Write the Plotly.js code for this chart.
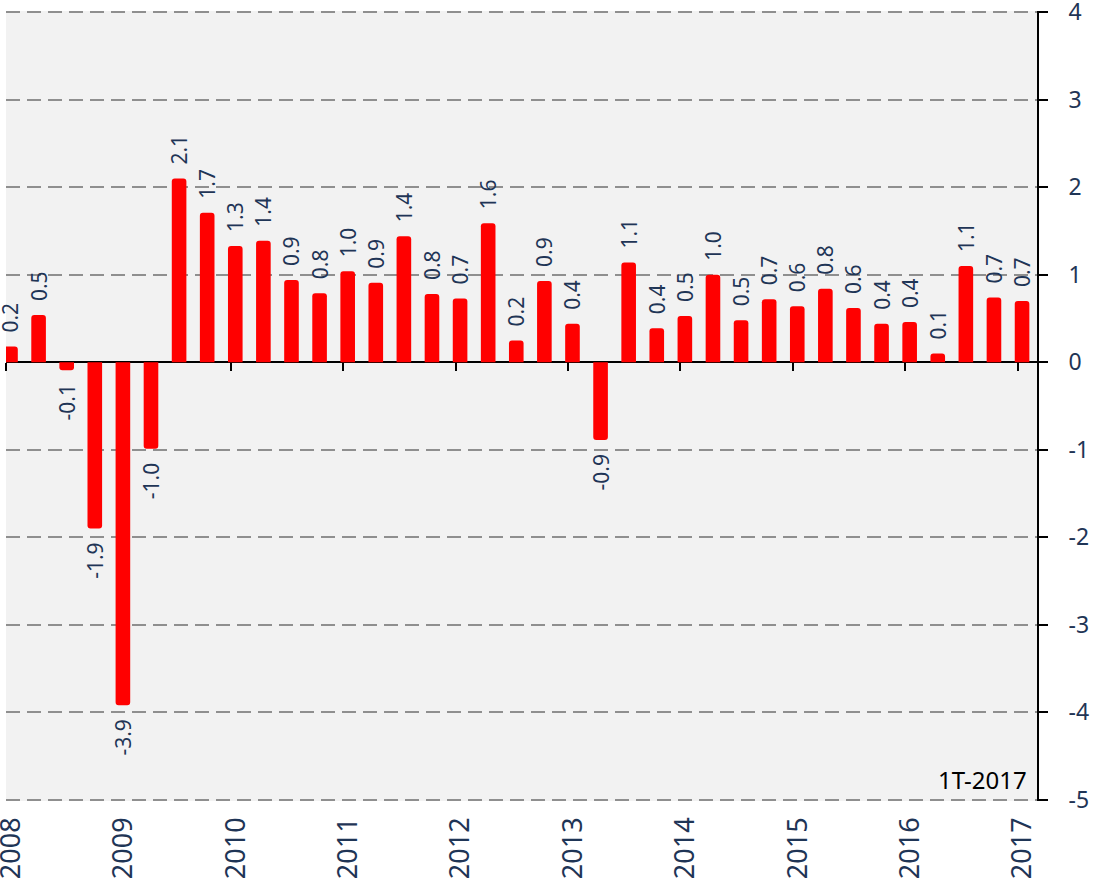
<!DOCTYPE html>
<html>
<head>
<meta charset="utf-8">
<script src="https://cdn.plot.ly/plotly-3.0.1.min.js"></script>
<style>html,body{margin:0;padding:0;background:#fff;}#chart{width:1094px;height:889px;}</style>
</head>
<body>
<div id="chart"></div>
<script>
// Quarterly series, 1T-2008 .. 1T-2017
const startYear = 2008;
const quarterIndex = [0,1,2,3,4,5,6,7,8,9,10,11,12,13,14,15,16,17,18,19,20,21,22,23,24,25,26,27,28,29,30,31,32,33,34,35,36];
const values = [0.18,0.54,-0.09,-1.90,-3.92,-0.99,2.10,1.71,1.33,1.39,0.94,0.79,1.04,0.91,1.44,0.78,0.73,1.59,0.25,0.93,0.44,-0.89,1.14,0.39,0.53,1.00,0.48,0.72,0.64,0.84,0.62,0.44,0.46,0.10,1.10,0.74,0.70];
const labels = ["0.2","0.5","-0.1","-1.9","-3.9","-1.0","2.1","1.7","1.3","1.4","0.9","0.8","1.0","0.9","1.4","0.8","0.7","1.6","0.2","0.9","0.4","-0.9","1.1","0.4","0.5","1.0","0.5","0.7","0.6","0.8","0.6","0.4","0.4","0.1","1.1","0.7","0.7"];
const years = [2008,2009,2010,2011,2012,2013,2014,2015,2016,2017];
const yearLabels = ["2008","2009","2010","2011","2012","2013","2014","2015","2016","2017"];
const yTicks = [-5,-4,-3,-2,-1,0,1,2,3,4];
const yTickLabels = ["-5","-4","-3","-2","-1","0","1","2","3","4"];
const noteText = "1T-2017";

const navy = '#1F3556';
const xRange = [2008, 2017.173];
const yRange = [-5.015, 4.015];
const xPos = quarterIndex.map(q => startYear + q * 0.25 + 0.04);
const labelPos = years.map(y => y + 0.045);
const pad = '\u00a0\u00a0';
const barText = labels.map((t, i) => values[i] >= 0 ? pad + t : t + pad);

const traces = [
  {
    type: 'bar',
    x: xPos,
    y: values,
    width: 0.13,
    marker: {color: '#FF0000', line: {width: 0}},
    text: barText,
    textposition: 'outside',
    textangle: -90,
    constraintext: 'none',
    cliponaxis: false,
    textfont: {family: 'Noto Sans', size: 21, color: navy},
    hoverinfo: 'skip',
    showlegend: false
  },
  {
    type: 'scatter', x: [], y: [], xaxis: 'x2', yaxis: 'y',
    hoverinfo: 'skip', showlegend: false
  }
];

const layout = {
  width: 1094, height: 889,
  margin: {l: 6, r: 57, t: 11, b: 88, pad: 0},
  paper_bgcolor: '#FFFFFF',
  plot_bgcolor: '#F2F2F2',
  barcornerradius: 3,
  showlegend: false,
  font: {family: 'Noto Sans', color: navy},
  xaxis: {
    range: xRange, type: 'linear',
    tickmode: 'array', tickvals: labelPos, ticktext: yearLabels,
    tickangle: -90, ticks: '', showline: false, showgrid: false, zeroline: false,
    tickfont: {family: 'Noto Sans', size: 27, color: navy},
    ticklabelstandoff: 10, ticklabeloverflow: 'allow'
  },
  xaxis2: {
    range: xRange, type: 'linear', overlaying: 'x', anchor: 'free',
    position: (0 - yRange[0]) / (yRange[1] - yRange[0]),
    tickmode: 'array', tickvals: years, showticklabels: false,
    ticks: 'outside', ticklen: 8, tickwidth: 2, tickcolor: '#000',
    showline: true, linecolor: '#000', linewidth: 2,
    showgrid: false, zeroline: false, layer: 'below traces'
  },
  yaxis: {
    range: yRange, side: 'right',
    tickmode: 'array', tickvals: yTicks, ticktext: yTickLabels,
    ticks: 'outside', ticklen: 9, tickwidth: 2, tickcolor: '#000',
    showline: true, linecolor: '#000', linewidth: 2,
    showgrid: true, gridcolor: '#8F8F8F', gridwidth: 2, griddash: '14px,7px',
    zeroline: false,
    tickfont: {family: 'Noto Sans', size: 23, color: navy},
    ticklabelstandoff: 16, ticklabeloverflow: 'allow'
  },
  annotations: [{
    text: noteText, xref: 'paper', yref: 'paper', x: 1, y: 0,
    xanchor: 'right', yanchor: 'bottom', xshift: -9, yshift: 4,
    showarrow: false, borderpad: 0,
    font: {family: 'Noto Sans', size: 24, color: '#000'}
  }]
};

Plotly.newPlot('chart', traces, layout, {displayModeBar: false, staticPlot: true});
</script>
</body>
</html>
